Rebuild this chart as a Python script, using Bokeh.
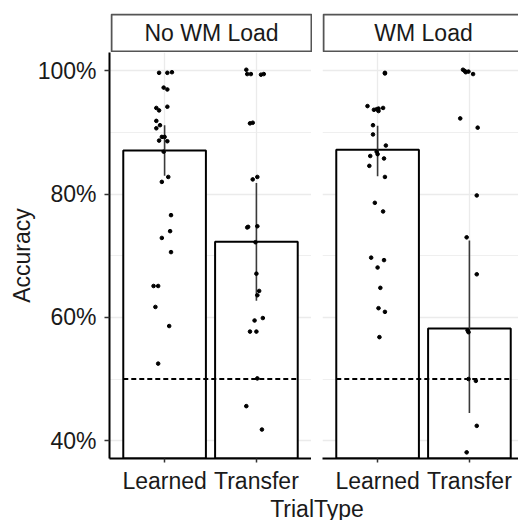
from bokeh.plotting import figure
from bokeh.layouts import row, column
from bokeh.models import Range1d, FixedTicker, PrintfTickFormatter, Label
from bokeh.embed import file_html
from bokeh.resources import INLINE

FONT = "Liberation Sans"
FS = "23px"

# ---------------- data ----------------
conditions = ["No WM Load", "WM Load"]
trial_types = ["Learned", "Transfer"]

mean_no_load = [87.1, 72.3]
ci_lo_no_load = [83.0, 62.7]
ci_hi_no_load = [91.2, 81.8]

mean_load = [87.2, 58.2]
ci_lo_load = [82.9, 44.5]
ci_hi_load = [91.1, 72.5]

chance_level = 50

# per-subject accuracies (%) and their horizontal jitter (category units)
nl_learned_acc = [99.7, 99.7, 99.8, 97.3, 97.0, 94.0, 93.6, 94.2, 91.9, 91.2, 90.7, 89.3, 89.3, 88.7,
                  88.6, 86.9, 82.8, 82.0, 76.6, 74.0, 72.9, 70.6, 65.1, 65.1, 61.7, 58.6, 52.5]
nl_learned_jit = [-0.06, 0.03, 0.08, -0.01, 0.03, -0.09, -0.06, 0.03, -0.09, -0.05, -0.09, -0.03, 0.0, -0.06,
                  0.03, -0.01, 0.04, -0.03, 0.07, 0.06, -0.03, 0.07, -0.12, -0.07, -0.10, 0.05, -0.07]

nl_transfer_acc = [100.2, 99.5, 99.5, 99.4, 99.5, 91.5, 91.6, 82.4, 82.8, 74.6, 74.7, 74.8, 72.2, 67.1,
                   64.3, 63.6, 59.9, 59.5, 57.7, 57.7, 50.1, 45.6, 41.8]
nl_transfer_jit = [-0.11, -0.10, -0.06, 0.05, 0.08, -0.07, -0.04, -0.04, 0.01, -0.10, -0.09, 0.01, -0.01, 0.0,
                   0.03, 0.01, 0.07, -0.02, -0.07, 0.0, 0.01, -0.11, 0.06]

wl_learned_acc = [99.7, 99.6, 94.3, 93.7, 93.8, 93.5, 93.9, 94.0, 91.2, 89.7, 87.9, 86.9, 86.5, 86.2,
                  85.8, 84.6, 82.8, 78.6, 77.2, 69.7, 69.3, 68.1, 64.8, 61.5, 60.9, 56.8]
wl_learned_jit = [0.08, 0.08, -0.11, -0.04, -0.01, 0.01, 0.01, 0.06, -0.05, -0.05, 0.09, -0.01, 0.0, -0.08,
                  0.07, -0.09, 0.08, -0.03, 0.06, -0.07, 0.07, 0.0, 0.03, 0.01, 0.08, 0.02]

wl_transfer_acc = [100.2, 100.0, 99.8, 99.9, 99.5, 92.3, 90.8, 79.8, 73.0, 67.0, 57.9, 57.6, 50.0, 49.7,
                   42.4, 38.1]
wl_transfer_jit = [-0.07, -0.05, -0.04, -0.01, 0.04, -0.10, 0.09, 0.08, -0.03, 0.08, -0.02, -0.01, -0.01, 0.07,
                   0.08, -0.03]

y_ticks = [40, 60, 80, 100]
y_minor = [50, 70, 90]
y_limits = (37.1, 103.0)

# ---------------- layout constants ----------------
TOTAL_W = 518
TOTAL_H = 520
LEFT = 109
FRAME_W1 = 202
GAP = 11
FRAME_W2 = TOTAL_W - LEFT - FRAME_W1 - GAP
PX_PER_UNIT = FRAME_W1 / 2.2
STRIP_FIG_H = 52
STRIP_TOP = 13
STRIP_FRAME_H = STRIP_FIG_H - STRIP_TOP
STRIP_LW = 2
PANEL_H = 410
BOTTOM = 34
XLAB_H = TOTAL_H - STRIP_FIG_H - PANEL_H - BOTTOM

BAR_W = 0.9
positions = [i + 1 for i in range(len(trial_types))]


def base_fig(**kw):
    f = figure(title=None, toolbar_location=None, output_backend="svg", min_border=0, **kw)
    f.background_fill_color = "white"
    f.border_fill_color = "white"
    return f


def make_strip(text, fig_w, left, full_w):
    frame_w = fig_w - left
    s = base_fig(width=fig_w, height=STRIP_FIG_H, x_range=Range1d(0, frame_w),
                 y_range=Range1d(0, STRIP_FRAME_H),
                 min_border_left=left, min_border_right=0, min_border_top=STRIP_TOP,
                 min_border_bottom=0, x_axis_location=None, y_axis_location=None)
    s.grid.visible = False
    s.outline_line_color = None
    half = STRIP_LW / 2
    s.quad(left=[half], right=[full_w - half], bottom=[half], top=[STRIP_FRAME_H - half],
           fill_color="white", line_color="#555555", line_width=STRIP_LW)
    s.add_layout(Label(x=full_w / 2, y=STRIP_FRAME_H / 2, text=text, text_align="center",
                       text_baseline="middle", text_font=FONT, text_font_size=FS, text_color="#1a1a1a"))
    return s


def make_panel(frame_w, left, means, lo, hi, accs, jits, show_y):
    xr = Range1d(0.4, 0.4 + frame_w / PX_PER_UNIT)
    p = base_fig(width=left + frame_w, height=PANEL_H + BOTTOM, x_range=xr, y_range=Range1d(*y_limits),
                 min_border_left=left, min_border_right=0, min_border_top=0, min_border_bottom=BOTTOM,
                 y_axis_location="left" if show_y else None)
    p.outline_line_color = None

    # grids
    p.xgrid.ticker = FixedTicker(ticks=positions)
    p.ygrid.ticker = FixedTicker(ticks=y_ticks, minor_ticks=y_minor)
    p.xgrid.grid_line_color = "#ebebeb"
    p.xgrid.grid_line_width = 1.3
    p.ygrid.grid_line_color = "#ebebeb"
    p.ygrid.grid_line_width = 1.3
    p.ygrid.minor_grid_line_color = "#ebebeb"
    p.ygrid.minor_grid_line_width = 0.8

    # bars
    p.vbar(x=positions, top=means, bottom=0, width=BAR_W, fill_color="white",
           line_color="black", line_width=2)
    # chance line
    p.segment(x0=[positions[0] - BAR_W / 2], x1=[positions[-1] + BAR_W / 2],
              y0=[chance_level], y1=[chance_level], line_color="black", line_width=2, line_dash="5 3")
    # error bars
    p.segment(x0=positions, x1=positions, y0=lo, y1=hi, line_color="#3a3a3a", line_width=1.6)
    # points
    for pos, acc, jit in zip(positions, accs, jits):
        p.scatter(x=[pos + j for j in jit], y=acc, size=3.6, color="black")

    xa = p.xaxis[0]
    xa.ticker = FixedTicker(ticks=positions)
    xa.major_label_overrides = {pos: name for pos, name in zip(positions, trial_types)}
    xa.axis_line_color = "black"
    xa.axis_line_width = 2
    xa.major_tick_line_color = "#333333"
    xa.major_tick_line_width = 1.5
    xa.major_tick_out = 4
    xa.major_tick_in = 0
    xa.minor_tick_line_color = None
    xa.major_label_text_font = FONT
    xa.major_label_text_font_size = FS
    xa.major_label_text_color = "#1a1a1a"
    xa.major_label_standoff = 5

    if show_y:
        ya = p.yaxis[0]
        ya.ticker = FixedTicker(ticks=y_ticks)
        ya.formatter = PrintfTickFormatter(format="%d%%")
        ya.axis_line_color = "black"
        ya.axis_line_width = 2
        ya.major_tick_line_color = "#333333"
        ya.major_tick_line_width = 1.5
        ya.major_tick_out = 5
        ya.major_tick_in = 0
        ya.minor_tick_line_color = None
        ya.major_label_text_font = FONT
        ya.major_label_text_font_size = FS
        ya.major_label_text_color = "#1a1a1a"
        ya.major_label_standoff = 8
        ya.axis_label = "Accuracy"
        ya.axis_label_text_font = FONT
        ya.axis_label_text_font_size = FS
        ya.axis_label_text_font_style = "normal"
        ya.axis_label_text_color = "#1a1a1a"
        ya.axis_label_standoff = 0
    return p


strip1_w = LEFT + 1 + FRAME_W1
strip1 = make_strip(conditions[0], strip1_w, LEFT + 1, FRAME_W1)
strip2 = make_strip(conditions[1], TOTAL_W - strip1_w, GAP - 1, FRAME_W1)

panel1 = make_panel(FRAME_W1, LEFT, mean_no_load, ci_lo_no_load, ci_hi_no_load,
                    [nl_learned_acc, nl_transfer_acc], [nl_learned_jit, nl_transfer_jit], True)
panel2 = make_panel(FRAME_W2, GAP, mean_load, ci_lo_load, ci_hi_load,
                    [wl_learned_acc, wl_transfer_acc], [wl_learned_jit, wl_transfer_jit], False)

# shared x-axis title
xlab = base_fig(width=TOTAL_W, height=XLAB_H, x_range=Range1d(0, TOTAL_W), y_range=Range1d(0, XLAB_H),
                x_axis_location=None, y_axis_location=None)
xlab.grid.visible = False
xlab.outline_line_color = None
xlab.add_layout(Label(x=LEFT + (2 * FRAME_W1 + GAP) / 2, y=XLAB_H / 2, text="TrialType", text_align="center",
                      text_baseline="middle", text_font=FONT, text_font_size=FS,
                      text_color="#1a1a1a"))

layout = column(row(strip1, strip2), row(panel1, panel2), xlab)

open("out.html", "w").write(file_html(layout, INLINE))
